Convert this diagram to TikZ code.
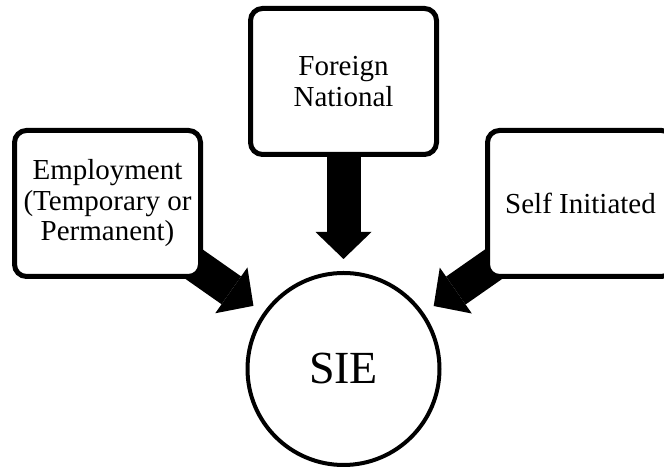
\documentclass[tikz,border=0pt]{standalone}
\usepackage{fontspec}
\setmainfont{Liberation Serif}
\usetikzlibrary{arrows.meta,backgrounds}
\begin{document}
\begin{tikzpicture}[x=1pt,y=1pt,
    box/.style={draw,line width=5pt,rounded corners=12pt,fill=white,
      minimum width=186pt,minimum height=146pt,align=center,
      font=\fontsize{29}{30.5}\selectfont},
    push/.style={line width=34pt,shorten >=12pt,
      -{Triangle[length=27pt,width=56pt,line width=0pt]}}]
    \useasboundingbox (0,0) rectangle (664,470);

    \node[box] (employ) at (107.5,266.5) {Employment\\(Temporary or\\Permanent)};
    \node[box] (foreign) at (343.5,388.5) {Foreign\\National};
    \node[box] (self) at (580.5,266.5) {Self Initiated};
    \node[draw,circle,line width=4pt,minimum size=192pt,inner sep=0pt,
      font=\fontsize{46}{48}\selectfont] (sie) at (343.5,101) {SIE};

    \begin{scope}[on background layer]
    \draw[push] (employ.center) -- (sie);
    \draw[push] (foreign.center) -- (sie);
    \draw[push] (self.center) -- (sie);
    \end{scope}
\end{tikzpicture}
\end{document}
